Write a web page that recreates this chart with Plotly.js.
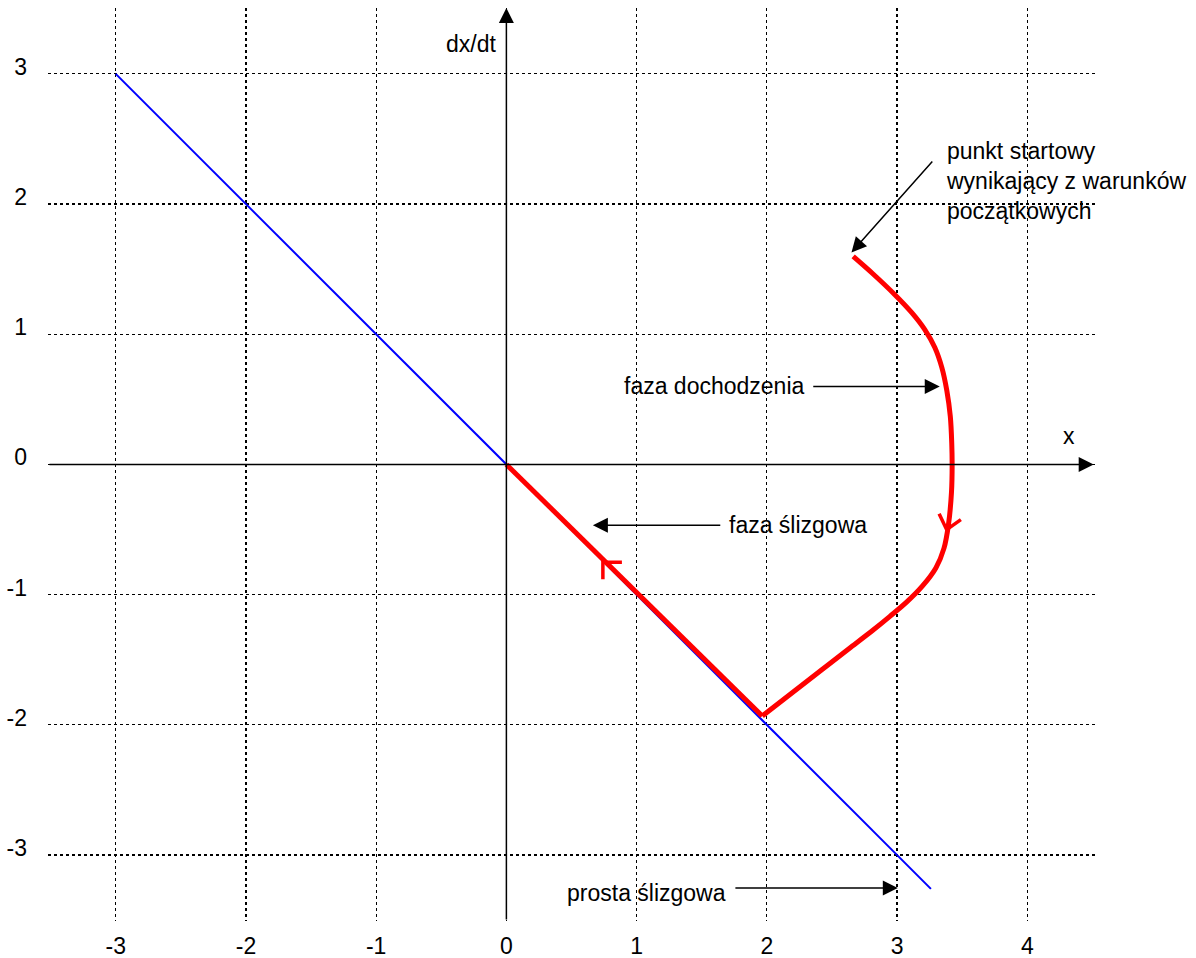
<!DOCTYPE html>
<html>
<head>
<meta charset="utf-8">
<script src="https://cdn.plot.ly/plotly-3.0.1.min.js"></script>
<style>
  html, body { margin: 0; padding: 0; background: #ffffff; }
  #chart { width: 1196px; height: 958px; }
</style>
</head>
<body>
<div id="chart"></div>
<script>
// Tick values / labels for the phase plane
const xTicks = [-3, -2, -1, 0, 1, 2, 3, 4];
const yTicks = [-3, -2, -1, 0, 1, 2, 3];

// Sliding line s = dx/dt + x = 0
const slideLineX = [-3, 3.26];
const slideLineY = [3, -3.26];

// Reaching phase trajectory (from the initial point to the sliding line)
const reachX = [2.663, 2.816, 2.983, 3.113, 3.213, 3.290, 3.344, 3.382, 3.409, 3.420, 3.423, 3.418, 3.395, 3.360, 3.298, 3.194, 3.075, 2.945, 2.814, 2.645, 2.467, 2.269, 1.965];
const reachY = [1.598, 1.463, 1.304, 1.166, 1.036, 0.898, 0.744, 0.568, 0.368, 0.161, -0.008, -0.213, -0.460, -0.645, -0.795, -0.935, -1.056, -1.167, -1.274, -1.404, -1.542, -1.696, -1.932];

// Sliding phase: along the line towards the origin
const slideX = [1.965, 0];
const slideY = [-1.932, 0];

// Direction markers drawn on the trajectory
const markDownX = [3.323, 3.381, 3.490];
const markDownY = [-0.378, -0.501, -0.424];
const markUpX = [0.887, 0.741, 0.741];
const markUpY = [-0.752, -0.752, -0.882];

const FONT = 'Liberation Sans, Arial, sans-serif';
const FSIZE = 23;
const RED = '#ff0000';

const traces = [
  { x: slideLineX, y: slideLineY, mode: 'lines', line: { color: '#0000ff', width: 2 } },
  { x: reachX, y: reachY, mode: 'lines', line: { color: RED, width: 5, shape: 'spline', smoothing: 1 } },
  { x: slideX, y: slideY, mode: 'lines', line: { color: RED, width: 5 } },
  { x: markDownX, y: markDownY, mode: 'lines', line: { color: RED, width: 3.5 } },
  { x: markUpX, y: markUpY, mode: 'lines', line: { color: RED, width: 3.5 } }
];

function arrow(x0, y0, x1, y1) {
  return {
    xref: 'x', yref: 'y', axref: 'x', ayref: 'y',
    x: x1, y: y1, ax: x0, ay: y0,
    text: '', showarrow: true,
    arrowhead: 2, arrowsize: 2, arrowwidth: 1.5, arrowcolor: '#000000', standoff: 0
  };
}
function label(text, x, y, xanchor) {
  return {
    xref: 'x', yref: 'y', x: x, y: y, text: text, showarrow: false,
    xanchor: xanchor, yanchor: 'middle', align: 'left',
    font: { family: FONT, size: FSIZE, color: '#000000' }
  };
}

const annotations = [
  // coordinate axes
  arrow(-3.52, 0, 4.51, 0),
  arrow(0, -3.507, 0, 3.506),
  label('x', 4.319, 0.222, 'center'),
  label('dx/dt', -0.065, 3.23, 'right'),
  // pointers
  arrow(3.281, 2.338, 2.650, 1.628),
  label('punkt startowy<br>wynikający z warunków<br>początkowych', 3.36, 2.178, 'left'),
  arrow(2.345, 0.598, 3.328, 0.598),
  label('faza dochodzenia', 2.307, 0.606, 'right'),
  arrow(1.654, -0.468, 0.664, -0.468),
  label('faza ślizgowa', 1.693, -0.468, 'left'),
  arrow(1.747, -3.253, 3.006, -3.253),
  label('prosta ślizgowa', 0.45, -3.291, 'left')
];

const gridStyle = { showgrid: true, gridcolor: '#000000', gridwidth: 1.2, griddash: '3px,3px' };

const layout = {
  width: 1196, height: 958,
  margin: { l: 48, r: 101, t: 8, b: 37 },
  paper_bgcolor: '#ffffff', plot_bgcolor: '#ffffff',
  showlegend: false,
  font: { family: FONT, size: FSIZE, color: '#000000' },
  xaxis: Object.assign({
    range: [-3.52, 4.52], tickvals: xTicks, ticktext: xTicks.map(String),
    zeroline: false, showline: false, ticks: '', ticklabelstandoff: 9,
    tickfont: { family: FONT, size: FSIZE, color: '#000000' }, fixedrange: true
  }, gridStyle),
  yaxis: Object.assign({
    range: [-3.507, 3.506], tickvals: yTicks, ticktext: yTicks.map(String),
    zeroline: false, showline: false, ticks: '', ticklabelstandoff: 20, ticklabelshift: -7,
    tickfont: { family: FONT, size: FSIZE, color: '#000000' }, fixedrange: true
  }, gridStyle),
  annotations: annotations
};

Plotly.newPlot('chart', traces, layout, { displayModeBar: false, staticPlot: true });
</script>
</body>
</html>
